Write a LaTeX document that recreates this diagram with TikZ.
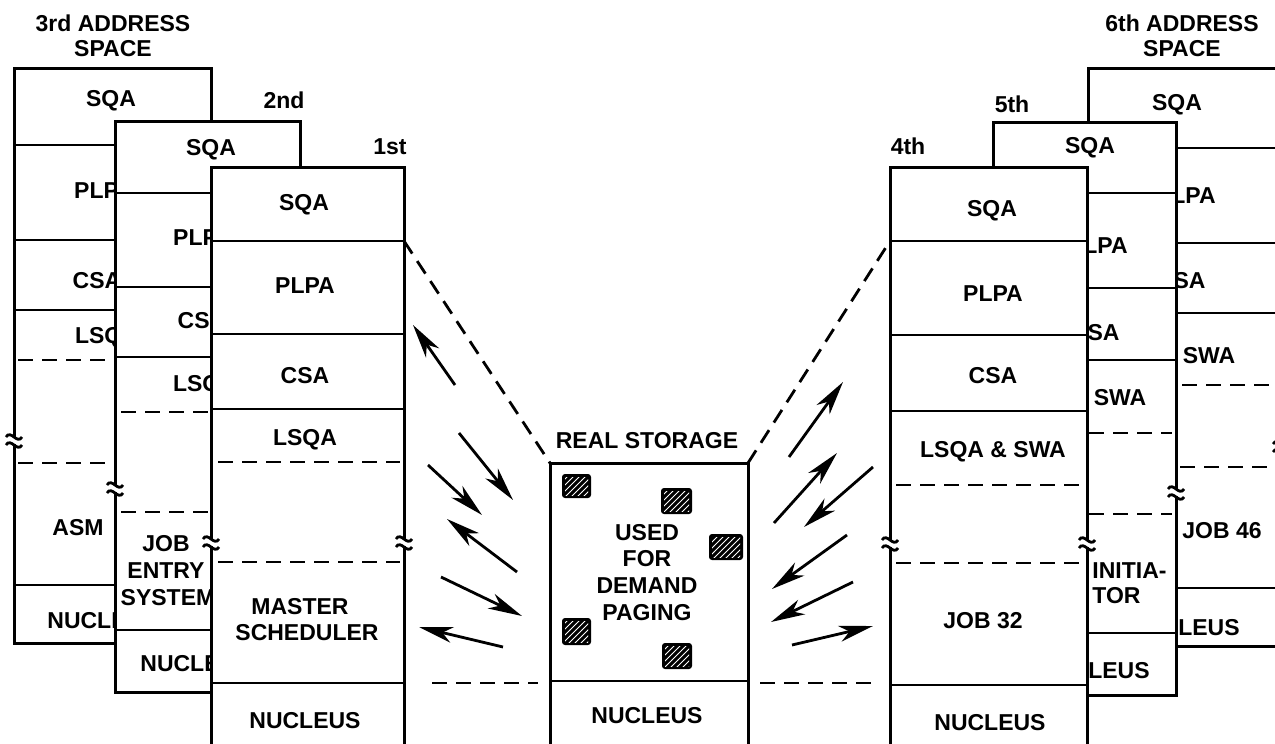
\documentclass[tikz,border=0pt]{standalone}
\usepackage{fontspec}
\setmainfont{Liberation Sans}
\usetikzlibrary{arrows.meta,patterns}
\tikzset{
  box/.style={draw=black, fill=white, line width=1.5pt},
  sep/.style={draw=black, line width=1.4pt},
  dsep/.style={draw=black, line width=1.4pt, dash pattern=on 7.5pt off 4.5pt},
  funnel/.style={draw=black, line width=1.4pt, dash pattern=on 7.5pt off 4.5pt},
  lbl/.style={font=\bfseries\fontsize{11.5}{13}\selectfont, inner sep=0pt, text height=8.2pt, text depth=0pt},
  flow/.style={draw=black, line width=1.4pt, -{Stealth[length=17pt, width=8pt, inset=5pt]}},
  brkline/.style={draw=black, line width=1.4pt},
  hatchbox/.style={fill=black, rounded corners=1.5pt},
  hatchin/.style={pattern=north east lines, pattern color=white}
}
\newcommand\brkmark[2]{%
  \fill[white] (#1-3,#2-3) rectangle (#1+3,#2+4);
  \draw[brkline] (#1-8,#2-3) .. controls (#1-3,#2-11) and (#1+3,#2+5) .. (#1+8,#2-3);
  \draw[brkline] (#1-8,#2+5) .. controls (#1-3,#2-3) and (#1+3,#2+13) .. (#1+8,#2+5);
}
\newcommand\hatchsq[4]{%
  \fill[hatchbox] (#1,#2) rectangle (#3,#4);
  \fill[hatchin] (#1+3,#2+3) rectangle (#3-3,#4-3);
}
\begin{document}
\begin{tikzpicture}[x=0.5pt, y=-0.5pt]
\useasboundingbox (0,0) rectangle (1275,744);
\clip (0,0) rectangle (1275,744);
\fill[white] (0,0) rectangle (1275,744);

% ================= 3rd address space =================
\node[lbl] (t3a) at (113,23) {3rd ADDRESS};
\node[lbl] (t3b) at (113,48) {SPACE};
\path[box] (14,68) rectangle (211,643);
\draw[sep] (14,145) -- (211,145);
\draw[sep] (14,240) -- (211,240);
\draw[sep] (14,310) -- (211,310);
\draw[dsep] (18,360) -- (211,360);
\draw[dsep] (18,463) -- (211,463);
\draw[sep] (14,585) -- (211,585);
\node[lbl] (s3sqa) at (111,98) {SQA};
\node[lbl] (s3plpa) at (104,190) {PLPA};
\node[lbl] (s3csa) at (97,280) {CSA};
\node[lbl] (s3lsqa) at (107,335) {LSQA};
\node[lbl] (s3asm) at (78,527) {ASM};
\node[lbl] (s3nuc) at (103,620) {NUCLEUS};
\brkmark{14}{440}

% ================= 2nd address space =================
\node[lbl] (t2) at (284,100) {2nd};
\path[box] (115,121) rectangle (300,692);
\draw[sep] (115,193) -- (300,193);
\draw[sep] (115,287) -- (300,287);
\draw[sep] (115,357) -- (300,357);
\draw[dsep] (121,412) -- (300,412);
\draw[dsep] (121,512) -- (300,512);
\draw[sep] (115,630) -- (300,630);
\node[lbl] (s2sqa) at (211,147) {SQA};
\node[lbl] (s2plpa) at (203,237) {PLPA};
\node[lbl] (s2csa) at (202,320) {CSA};
\node[lbl] (s2lsqa) at (205,383) {LSQA};
\node[lbl] (s2job) at (166,543) {JOB};
\node[lbl] (s2entry) at (166,570) {ENTRY};
\node[lbl] (s2sys) at (168,597) {SYSTEM};
\node[lbl] (s2nuc) at (196,663) {NUCLEUS};
\brkmark{115}{488}

% ================= 1st address space =================
\node[lbl] (t1) at (390,146) {1st};
\path[box] (211,167) rectangle (404,760);
\coordinate (b1pl) at (404,241);
\coordinate (b1nu) at (404,683);
\draw[sep] (211,241) -- (404,241);
\draw[sep] (211,334) -- (404,334);
\draw[sep] (211,409) -- (404,409);
\draw[dsep] (218,462) -- (400,462);
\draw[dsep] (218,562) -- (400,562);
\draw[sep] (211,683) -- (404,683);
\node[lbl] (s1sqa) at (304,202) {SQA};
\node[lbl] (s1plpa) at (305,285) {PLPA};
\node[lbl] (s1csa) at (305,375) {CSA};
\node[lbl] (s1lsqa) at (305,437) {LSQA};
\node[lbl] (s1mas) at (300,606) {MASTER};
\node[lbl] (s1sch) at (307,632) {SCHEDULER};
\node[lbl] (s1nuc) at (305,720) {NUCLEUS};
\brkmark{211}{542}
\brkmark{404}{542}

% ================= 6th address space =================
\node[lbl] (t6a) at (1182,23) {6th ADDRESS};
\node[lbl] (t6b) at (1182,48) {SPACE};
\path[box] (1088,68) rectangle (1281,646);
\draw[sep] (1088,148) -- (1281,148);
\draw[sep] (1088,243) -- (1281,243);
\draw[sep] (1088,313) -- (1281,313);
\draw[dsep] (1182,385) -- (1281,385);
\draw[dsep] (1180,467) -- (1281,467);
\draw[sep] (1088,588) -- (1281,588);
\node[lbl] (s6sqa) at (1177,102) {SQA};
\node[lbl, anchor=east] (s6plpa) at (1216,195) {PLPA};
\node[lbl, anchor=east] (s6csa) at (1206,280) {CSA};
\node[lbl] (s6swa) at (1209,355) {SWA};
\node[lbl, anchor=west] (s6job) at (1182,530) {JOB 46};
\node[lbl, anchor=east] (s6nuc) at (1240,627) {NUCLEUS};
\brkmark{1281}{447}

% ================= 5th address space =================
\node[lbl] (t5) at (1012,104) {5th};
\path[box] (993,122) rectangle (1176,695);
\draw[sep] (993,193) -- (1176,193);
\draw[sep] (993,288) -- (1176,288);
\draw[sep] (993,360) -- (1176,360);
\draw[dsep] (993,433) -- (1172,433);
\draw[dsep] (993,514) -- (1172,514);
\draw[sep] (993,633) -- (1176,633);
\node[lbl] (s5sqa) at (1090,145) {SQA};
\node[lbl, anchor=east] (s5plpa) at (1128,245) {PLPA};
\node[lbl, anchor=east] (s5csa) at (1120,332) {CSA};
\node[lbl] (s5swa) at (1120,397) {SWA};
\node[lbl, anchor=west] (s5ini) at (1092,570) {INITIA-};
\node[lbl, anchor=west] (s5tor) at (1092,595) {TOR};
\node[lbl, anchor=east] (s5nuc) at (1150,670) {NUCLEUS};
\brkmark{1176}{492}

% ================= 4th address space =================
\node[lbl] (t4) at (908,146) {4th};
\path[box] (890,167) rectangle (1087,760);
\coordinate (b4pl) at (890,241);
\coordinate (b4nu) at (890,683);
\draw[sep] (890,241) -- (1087,241);
\draw[sep] (890,335) -- (1087,335);
\draw[sep] (890,411) -- (1087,411);
\draw[dsep] (896,485) -- (1080,485);
\draw[dsep] (896,563) -- (1080,563);
\draw[sep] (890,685) -- (1087,685);
\node[lbl] (s4sqa) at (992,208) {SQA};
\node[lbl] (s4plpa) at (993,293) {PLPA};
\node[lbl] (s4csa) at (993,375) {CSA};
\node[lbl] (s4lsqa) at (993,449) {LSQA \& SWA};
\node[lbl] (s4job) at (983,620) {JOB 32};
\node[lbl] (s4nuc) at (990,722) {NUCLEUS};
\brkmark{890}{543}
\brkmark{1087}{543}

% ================= Real storage =================
\node[lbl] (rst) at (647,440) {REAL STORAGE};
\path[box] (550,463) rectangle (748,760);
\coordinate (rtl) at (550,463);
\coordinate (rtr) at (748,463);
\coordinate (rnl) at (550,683);
\coordinate (rnr) at (748,683);
\draw[sep] (550,681) -- (748,681);
\node[lbl] (rused) at (647,532) {USED};
\node[lbl] (rfor) at (647,558) {FOR};
\node[lbl] (rdem) at (647,585) {DEMAND};
\node[lbl] (rpag) at (647,612) {PAGING};
\node[lbl] (rnuc) at (647,715) {NUCLEUS};
\hatchsq{562}{474}{591}{498}
\hatchsq{661}{488}{692}{514}
\hatchsq{709}{534}{743}{560}
\hatchsq{562}{618}{591}{645}
\hatchsq{662}{643}{692}{669}

% ================= funnel and links =================
\draw[funnel] (b1pl) -- (rtl);
\draw[funnel] (rtr) -- (b4pl);
\draw[funnel, shorten <=14pt, shorten >=6pt] (b1nu) -- (rnl);
\draw[funnel, shorten <=6pt, shorten >=6pt] (rnr) -- (b4nu);

% ================= paging arrows =================
\coordinate (l1s) at (455,385); \coordinate (l1e) at (413,325);
\coordinate (l2s) at (459,433); \coordinate (l2e) at (513,500);
\coordinate (l3s) at (428,465); \coordinate (l3e) at (482,515);
\coordinate (l4s) at (517,572); \coordinate (l4e) at (447,519);
\coordinate (l5s) at (441,577); \coordinate (l5e) at (522,616);
\coordinate (l6s) at (503,647); \coordinate (l6e) at (419,627);
\coordinate (r1s) at (789,457); \coordinate (r1e) at (843,382);
\coordinate (r2s) at (774,523); \coordinate (r2e) at (837,453);
\coordinate (r3s) at (873,467); \coordinate (r3e) at (804,527);
\coordinate (r4s) at (847,535); \coordinate (r4e) at (772,589);
\coordinate (r5s) at (853,582); \coordinate (r5e) at (771,622);
\coordinate (r6s) at (792,645); \coordinate (r6e) at (873,626);
\foreach \a in {l1,l2,l3,l4,l5,l6,r1,r2,r3,r4,r5,r6}
  \draw[flow] (\a s) -- (\a e);
\end{tikzpicture}
\end{document}
